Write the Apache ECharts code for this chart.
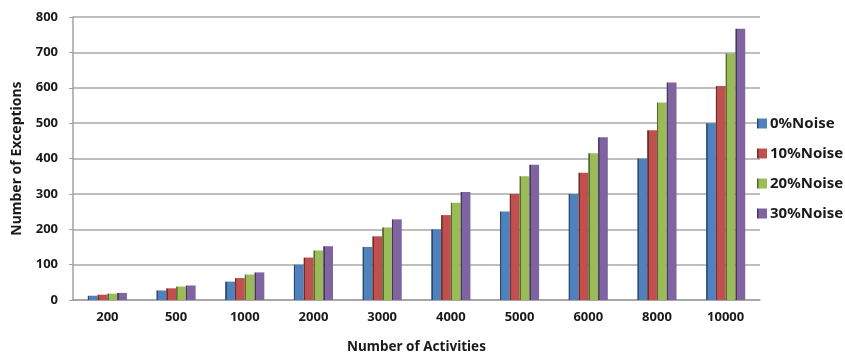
<!DOCTYPE html>
<html>
<head>
<meta charset="utf-8">
<script src="https://cdn.jsdelivr.net/npm/echarts@6/dist/echarts.min.js"></script>
<style>
  html, body { margin: 0; padding: 0; background: #fff; }
  #chart { width: 845px; height: 359px; }
</style>
</head>
<body>
<div id="chart"></div>
<script>
// Number of exceptions detected per log size, for four noise levels
const categories = ['200', '500', '1000', '2000', '3000', '4000', '5000', '6000', '8000', '10000'];
const noise0  = [12, 27, 52, 100, 150, 200, 250, 300, 400, 500];
const noise10 = [15, 33, 62, 120, 180, 240, 300, 360, 480, 605];
const noise20 = [18, 38, 72, 140, 205, 275, 350, 415, 558, 697];
const noise30 = [20, 41, 78, 152, 228, 305, 382, 460, 615, 767];
const seriesNames = ['0%Noise', '10%Noise', '20%Noise', '30%Noise'];
const yTicks = [0, 100, 200, 300, 400, 500, 600, 700, 800];

const colors = ['#4f81bd', '#c0504d', '#9bbb59', '#8064a2'];
const edges  = ['#2c4a70', '#6e2c2a', '#55682f', '#463758'];

function barFill(i) {
  return new echarts.graphic.LinearGradient(0, 0, 1, 0, [
    { offset: 0, color: edges[i] },
    { offset: 0.14, color: edges[i] },
    { offset: 0.16, color: colors[i] },
    { offset: 1, color: colors[i] }
  ]);
}

const values = [noise0, noise10, noise20, noise30];
const labelFont = '"Noto Sans", "DejaVu Sans", sans-serif';

const chart = echarts.init(document.getElementById('chart'));
chart.setOption({
  animation: false,
  backgroundColor: '#ffffff',
  color: colors,
  grid: { left: 73, right: 85, top: 17, bottom: 57, containLabel: false },
  legend: {
    orient: 'vertical',
    left: 752,
    top: 110,
    itemWidth: 10,
    itemHeight: 10,
    itemGap: 13,
    icon: 'rect',
    data: seriesNames,
    textStyle: { fontFamily: labelFont, fontSize: 15, fontWeight: 'bold', color: '#1a1a1a', lineHeight: 17, padding: [0, 0, 0, -2] }
  },
  xAxis: {
    type: 'category',
    data: categories,
    name: 'Number of Activities',
    nameLocation: 'middle',
    nameGap: 40,
    nameTextStyle: { fontFamily: labelFont, fontSize: 13.5, fontWeight: 'bold', color: '#1a1a1a' },
    axisLine: { lineStyle: { color: '#a0a0a0', width: 1.5 } },
    axisTick: { show: false },
    axisLabel: { fontFamily: labelFont, fontSize: 13, fontWeight: 'bold', color: '#1a1a1a', margin: 11 }
  },
  yAxis: {
    type: 'value',
    min: yTicks[0],
    max: yTicks[yTicks.length - 1],
    interval: 100,
    name: 'Number of Exceptions',
    nameLocation: 'middle',
    nameGap: 49,
    nameTextStyle: { fontFamily: labelFont, fontSize: 14, fontWeight: 'bold', color: '#1a1a1a' },
    axisLine: { show: true, lineStyle: { color: '#a0a0a0', width: 1.5 } },
    axisTick: { show: true, length: 4, lineStyle: { color: '#a0a0a0' } },
    axisLabel: { fontFamily: labelFont, fontSize: 13, fontWeight: 'bold', color: '#1a1a1a', margin: 15 },
    splitLine: { lineStyle: { color: '#a8a8a8', width: 1.5 } }
  },
  series: values.map((v, i) => ({
    name: seriesNames[i],
    type: 'bar',
    data: v,
    barGap: '0%',
    barCategoryGap: '43%',
    itemStyle: { color: barFill(i) }
  }))
});
</script>
</body>
</html>
